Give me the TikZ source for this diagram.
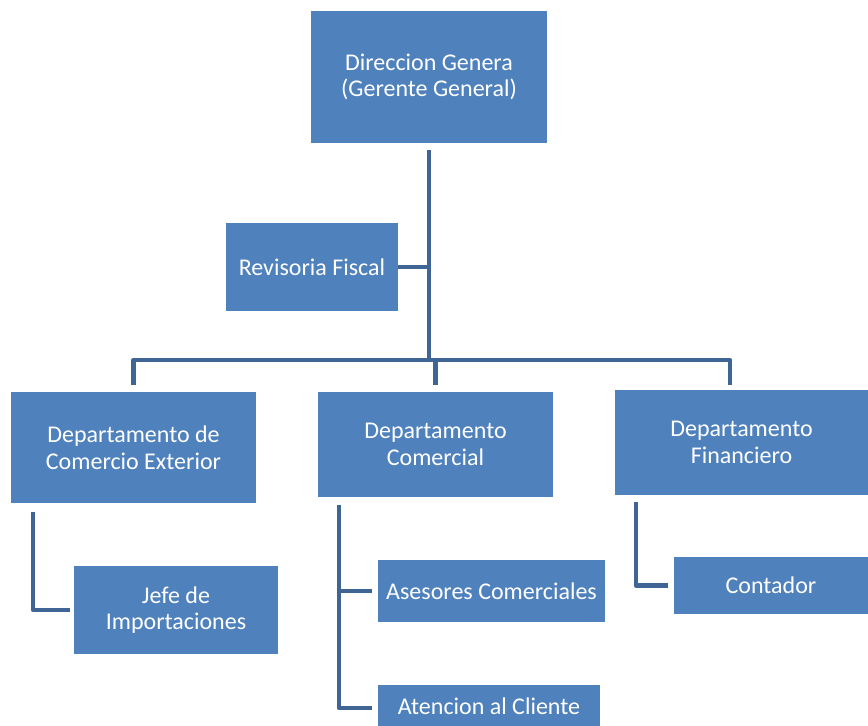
\documentclass[tikz,border=0pt]{standalone}
\usepackage{fontspec}
\setmainfont{Carlito}
\usetikzlibrary{positioning}
\definecolor{boxblue}{HTML}{4F81BD}
\definecolor{linkblue}{HTML}{3F6594}

\begin{document}
\begin{tikzpicture}[x=1pt, y=-1pt,
    box/.style={fill=boxblue, draw=none, text=white, align=center, inner sep=0pt,
      font=\fontsize{24}{26.5}\selectfont},
    link/.style={draw=linkblue, line width=4.5pt, line join=round}]
      \useasboundingbox (0, 0) rectangle (868, 726);
      \node[box, minimum width=236pt, minimum height=132pt] (dir) at (429, 77) {Direccion Genera\\(Gerente General)};
      \node[box, minimum width=172pt, minimum height=88pt] (rev) at (312, 267) {Revisoria Fiscal};
      \node[box, minimum width=245pt, minimum height=111pt] (ext) at (133.5, 447.5) {Departamento de\\Comercio Exterior};
      \node[box, minimum width=235pt, minimum height=105pt] (com) at (435.5, 444.5) {Departamento\\Comercial};
      \node[box, minimum width=253pt, minimum height=105pt] (fin) at (741.5, 442.5) {Departamento\\Financiero};
      \node[box, minimum width=204pt, minimum height=88pt] (jefe) at (176, 610) {Jefe de\\Importaciones};
      \node[box, minimum width=227pt, minimum height=62pt] (ases) at (491.5, 591) {Asesores Comerciales};
      \node[box, minimum width=222pt, minimum height=42pt] (aten) at (489, 706) {Atencion al Cliente};
      \node[box, minimum width=194pt, minimum height=57pt] (cont) at (771, 585.5) {Contador};
      \coordinate (hub) at (429, 360);
      \coordinate (finin) at (730, 385);
      \coordinate (extout) at (33, 512);
      \coordinate (comout) at (339, 505);
      \coordinate (finout) at (636, 502);
      \draw[link] ([yshift=-7pt]dir.south) -- (hub);
      \draw[link] (rev.east) -- (rev.east -| hub);
      \draw[link] ([yshift=7pt]ext.north) |- (hub) -| (finin);
      \draw[link] (hub -| com.north) -- ([yshift=7pt]com.north);
      \draw[link] (extout) |- ([xshift=-4pt]jefe.west);
      \draw[link] (comout) |- ([xshift=-6pt, yshift=-2pt]aten.west);
      \draw[link] (comout |- ases.west) -- ([xshift=-6pt]ases.west);
      \draw[link] (finout) |- ([xshift=-6pt]cont.west);
  \end{tikzpicture}
\end{document}
